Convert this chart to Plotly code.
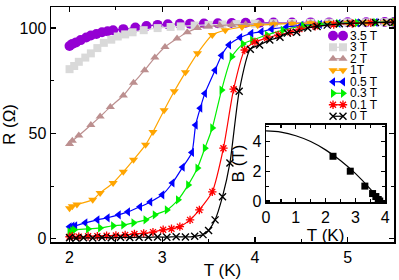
import plotly.graph_objects as go

# ---------------- data ----------------
T_35 = [2.0, 2.03, 2.07, 2.12, 2.18, 2.23, 2.29, 2.35, 2.41, 2.47, 2.58, 2.71, 2.83, 2.95, 3.06, 3.19, 3.3,
        3.45, 3.6, 3.75, 3.9, 4.05, 4.2, 4.4, 4.6, 4.8, 5.0, 5.2, 5.4, 5.5]
R_35 = [91.5, 92.5, 93.2, 94.3, 95.5, 96.5, 97.2, 98, 98.5, 99, 99.5, 100.3, 101, 101.5, 101.8, 102, 102.1,
        102.2, 102.3, 102.4, 102.5, 102.5, 102.6, 102.6, 102.7, 102.7, 102.8, 102.8, 102.9, 102.9]

T_3 = [2.0, 2.05, 2.1, 2.17, 2.23, 2.3, 2.37, 2.45, 2.52, 2.6, 2.68, 2.8, 2.95, 3.09, 3.2, 3.35, 3.5, 3.65,
       3.8, 4.0, 4.2, 4.4, 4.6, 4.8, 5.0, 5.2, 5.4, 5.5]
R_3 = [80.5, 82, 84, 86, 88, 90.5, 93, 94.5, 96, 97, 98, 99, 100, 100.5, 100.8, 101.2, 101.5, 101.7,
       101.9, 102.1, 102.3, 102.4, 102.5, 102.6, 102.7, 102.7, 102.8, 102.8]

T_2 = [2.0, 2.03, 2.1, 2.23, 2.33, 2.44, 2.58, 2.69, 2.81, 2.92, 3.03, 3.16, 3.27, 3.38, 3.5, 3.62, 3.75,
       3.9, 4.05, 4.2, 4.4, 4.6, 4.8, 5.0, 5.2, 5.4, 5.5]
R_2 = [45, 46.5, 49, 54, 58, 62.6, 68, 74, 80, 86, 91, 95, 98, 100, 100.8, 101.2, 101.5,
       101.8, 102, 102.2, 102.3, 102.4, 102.5, 102.6, 102.7, 102.8, 102.8]

T_1 = [2.0, 2.03, 2.08, 2.25, 2.33, 2.47, 2.58, 2.69, 2.82, 2.9, 3.02, 3.13, 3.25, 3.38, 3.54, 3.68, 3.86,
       4.03, 4.2, 4.4, 4.6, 4.8, 5.0, 5.2, 5.4, 5.5]
R_1 = [14.5, 15.5, 16.3, 18.5, 21.8, 26.5, 31.8, 37.5, 44.6, 50.7, 61, 70, 79, 88, 96.7, 99, 100.5,
       101.4, 101.8, 102.1, 102.3, 102.4, 102.5, 102.6, 102.7, 102.8]

T_05 = [2.0, 2.03, 2.06, 2.17, 2.3, 2.41, 2.53, 2.63, 2.76, 2.87, 3.0, 3.11, 3.22, 3.32, 3.36, 3.41, 3.46,
        3.57, 3.64, 3.72, 3.84, 3.96, 4.07, 4.18, 4.34, 4.5, 4.7, 4.9, 5.1, 5.3, 5.5]
R_05 = [5.7, 6, 6.2, 7.6, 9, 10, 11.4, 12.8, 15.2, 17.5, 20.9, 26.5, 34, 41, 54, 62, 69,
        80, 87, 92, 95.5, 97.5, 98.3, 99.5, 100.5, 101.3, 101.8, 102.2, 102.5, 102.7, 102.9]

T_03 = [2.0, 2.03, 2.05, 2.2, 2.33, 2.47, 2.58, 2.69, 2.82, 2.92, 3.05, 3.17, 3.28, 3.38, 3.46, 3.54, 3.64,
        3.75, 3.87, 3.97, 4.13, 4.3, 4.52, 4.7, 4.9, 5.1, 5.3, 5.5]
R_03 = [3.3, 3.8, 4.3, 4.7, 5.2, 6.2, 6.6, 7.6, 9, 11.4, 13.7, 18.5, 25.6, 33.6, 43, 52.6, 70.6,
        86.4, 92.5, 94.3, 96.7, 99, 101, 101.8, 102.2, 102.5, 102.7, 102.9]

T_01 = [2.0, 2.03, 2.1, 2.2, 2.3, 2.4, 2.5, 2.6, 2.7, 2.8, 2.9, 3.01, 3.1, 3.19, 3.3, 3.4, 3.54, 3.66,
        3.77, 3.89, 4.0, 4.13, 4.25, 4.38, 4.48, 4.65, 4.85, 5.05, 5.25, 5.5]
R_01 = [1, 1.2, 1, 1.2, 1.3, 1.5, 1.6, 1.8, 2.3, 2.6, 3.2, 4.3, 4.8, 5.8, 9, 13.7, 22.3, 43,
        71, 89.6, 93.4, 95.3, 96.7, 98, 99.5, 100.8, 101.7, 102.2, 102.5, 102.8]

T_0 = [2.0, 2.07, 2.15, 2.25, 2.35, 2.45, 2.55, 2.65, 2.75, 2.85, 2.95, 3.05, 3.15, 3.25, 3.35, 3.44,
       3.5, 3.57, 3.65, 3.73, 3.83, 3.95, 4.05, 4.16, 4.27, 4.35, 4.45, 4.57, 4.67, 4.78, 4.91, 5.03,
       5.16, 5.3, 5.42, 5.5]
R_0 = [0.5, 0.3, 0.5, 0.4, 0.6, 0.5, 0.7, 0.6, 0.8, 0.7, 0.9, 0.8, 1.0, 0.9, 1.2, 2,
       4, 9, 20, 36, 70, 90, 92, 94.3, 95.7, 97.6, 98, 100, 100.8, 101.4, 102, 102.2,
       102.4, 102.6, 102.7, 102.8]

labels = ["3.5 T", "3 T", "2 T", "1T", "0.5 T", "0.3 T", "0.1 T", "0 T"]
T_sets = [T_35, T_3, T_2, T_1, T_05, T_03, T_01, T_0]
R_sets = [R_35, R_3, R_2, R_1, R_05, R_03, R_01, R_0]

# inset: critical field vs temperature
Tc_pts = [2.25, 2.83, 3.32, 3.58, 3.69, 3.77, 3.82]
Bc_pts = [3, 2, 1, 0.5, 0.3, 0.1, 0]
T_fit = [0, 0.5, 1, 1.5, 2, 2.5, 3, 3.5, 3.84]
B_fit = [4.7, 4.62, 4.38, 3.99, 3.43, 2.72, 1.85, 0.81, 0]

# ---------------- styles ----------------
colors = ["#9400D3", "#D9D9D9", "#BC8F8F", "#FFA500", "#0000FF", "#00F000", "#FF0000", "#000000"]
symbols = ["circle", "square", "triangle-up", "triangle-down", "triangle-left", "triangle-right",
           "asterisk-open", "x-thin-open"]
msizes = [10, 8, 8, 8, 8, 8, 7, 7]
mlw = [0, 0, 0, 0, 0, 0, 1.3, 1.4]

FONT = "Liberation Sans, Arial, sans-serif"

fig = go.Figure()

for lab, tx, ry, c, s, ms, lw in zip(labels, T_sets, R_sets, colors, symbols, msizes, mlw):
    fig.add_trace(go.Scatter(
        x=tx, y=ry, mode="lines+markers", name=lab, showlegend=False,
        line=dict(color=c, width=1.2, shape="spline", smoothing=0.6),
        marker=dict(symbol=s, size=ms, color=c, line=dict(color=c, width=lw)),
        xaxis="x", yaxis="y"))

# custom compact legend (own hidden axes)
for i, (lab, c, s, ms, lw) in enumerate(zip(labels, colors, symbols, msizes, mlw)):
    fig.add_trace(go.Scatter(
        x=[0.076, 0.227], y=[i, i], mode="lines+markers", showlegend=False,
        line=dict(color=c, width=1.2),
        marker=dict(symbol=s, size=ms, color=c, line=dict(color=c, width=lw)),
        xaxis="x3", yaxis="y3", hoverinfo="skip"))
    fig.add_annotation(x=0.31, y=i, xref="x3", yref="y3", text=lab, showarrow=False,
                       xanchor="left", yanchor="middle", font=dict(family=FONT, size=12, color="black"))

# inset
fig.add_trace(go.Scatter(x=T_fit, y=B_fit, mode="lines", showlegend=False,
                         line=dict(color="black", width=1.2, shape="spline"),
                         xaxis="x2", yaxis="y2"))
fig.add_trace(go.Scatter(x=Tc_pts, y=Bc_pts, mode="markers", showlegend=False,
                         marker=dict(symbol="square", size=7, color="black"),
                         xaxis="x2", yaxis="y2"))

axis_common = dict(showgrid=False, zeroline=False, showline=True, linecolor="black", linewidth=1.5,
                   mirror="ticks", ticks="inside", tickcolor="black", tickwidth=1.2,
                   tickfont=dict(family=FONT, size=16, color="black"))

fig.update_layout(
    width=399, height=280,
    margin=dict(l=51, r=5, t=7, b=38, autoexpand=False),
    paper_bgcolor="white", plot_bgcolor="white",
    font=dict(family=FONT, color="black"),
    hovermode=False,
    xaxis=dict(**axis_common, range=[1.8, 5.5], tickvals=[2, 3, 4, 5], ticklen=5, automargin=False,
               minor=dict(dtick=0.5, tick0=0, ticklen=3, ticks="inside", tickcolor="black"),
               title=dict(text="T (K)", font=dict(family=FONT, size=17), standoff=2)),
    yaxis=dict(**axis_common, range=[-1.5, 110], tickvals=[0, 50, 100], ticklen=5, automargin=False,
               minor=dict(dtick=25, tick0=0, ticklen=3, ticks="inside", tickcolor="black"),
               title=dict(text="R (Ω)", font=dict(family=FONT, size=17), standoff=6)),
    xaxis2=dict(**axis_common, domain=[0.627, 0.974], anchor="y2", range=[0, 4.0], dtick=1, ticklen=4,
                automargin=False,
                minor=dict(dtick=0.5, tick0=0, ticklen=3, ticks="inside", tickcolor="black"),
                title=dict(text="T (K)", font=dict(family=FONT, size=17), standoff=0)),
    yaxis2=dict(**axis_common, domain=[0.17, 0.498], anchor="x2", range=[-0.07, 5.1], dtick=2, ticklen=4,
                automargin=False,
                minor=dict(dtick=1, tick0=0, ticklen=3, ticks="inside", tickcolor="black"),
                title=dict(text="B (T)", font=dict(family=FONT, size=17), standoff=3)),
    xaxis3=dict(domain=[0.8076, 1.0], range=[0, 1], visible=False, anchor="y3", fixedrange=True),
    yaxis3=dict(domain=[0.5106, 0.902], range=[7.5, -0.5], visible=False, anchor="x3", fixedrange=True),
)

fig.write_html("out.html", config={"displayModeBar": False, "staticPlot": True},
               post_script="document.body.style.margin='0';document.body.style.padding='0';")
